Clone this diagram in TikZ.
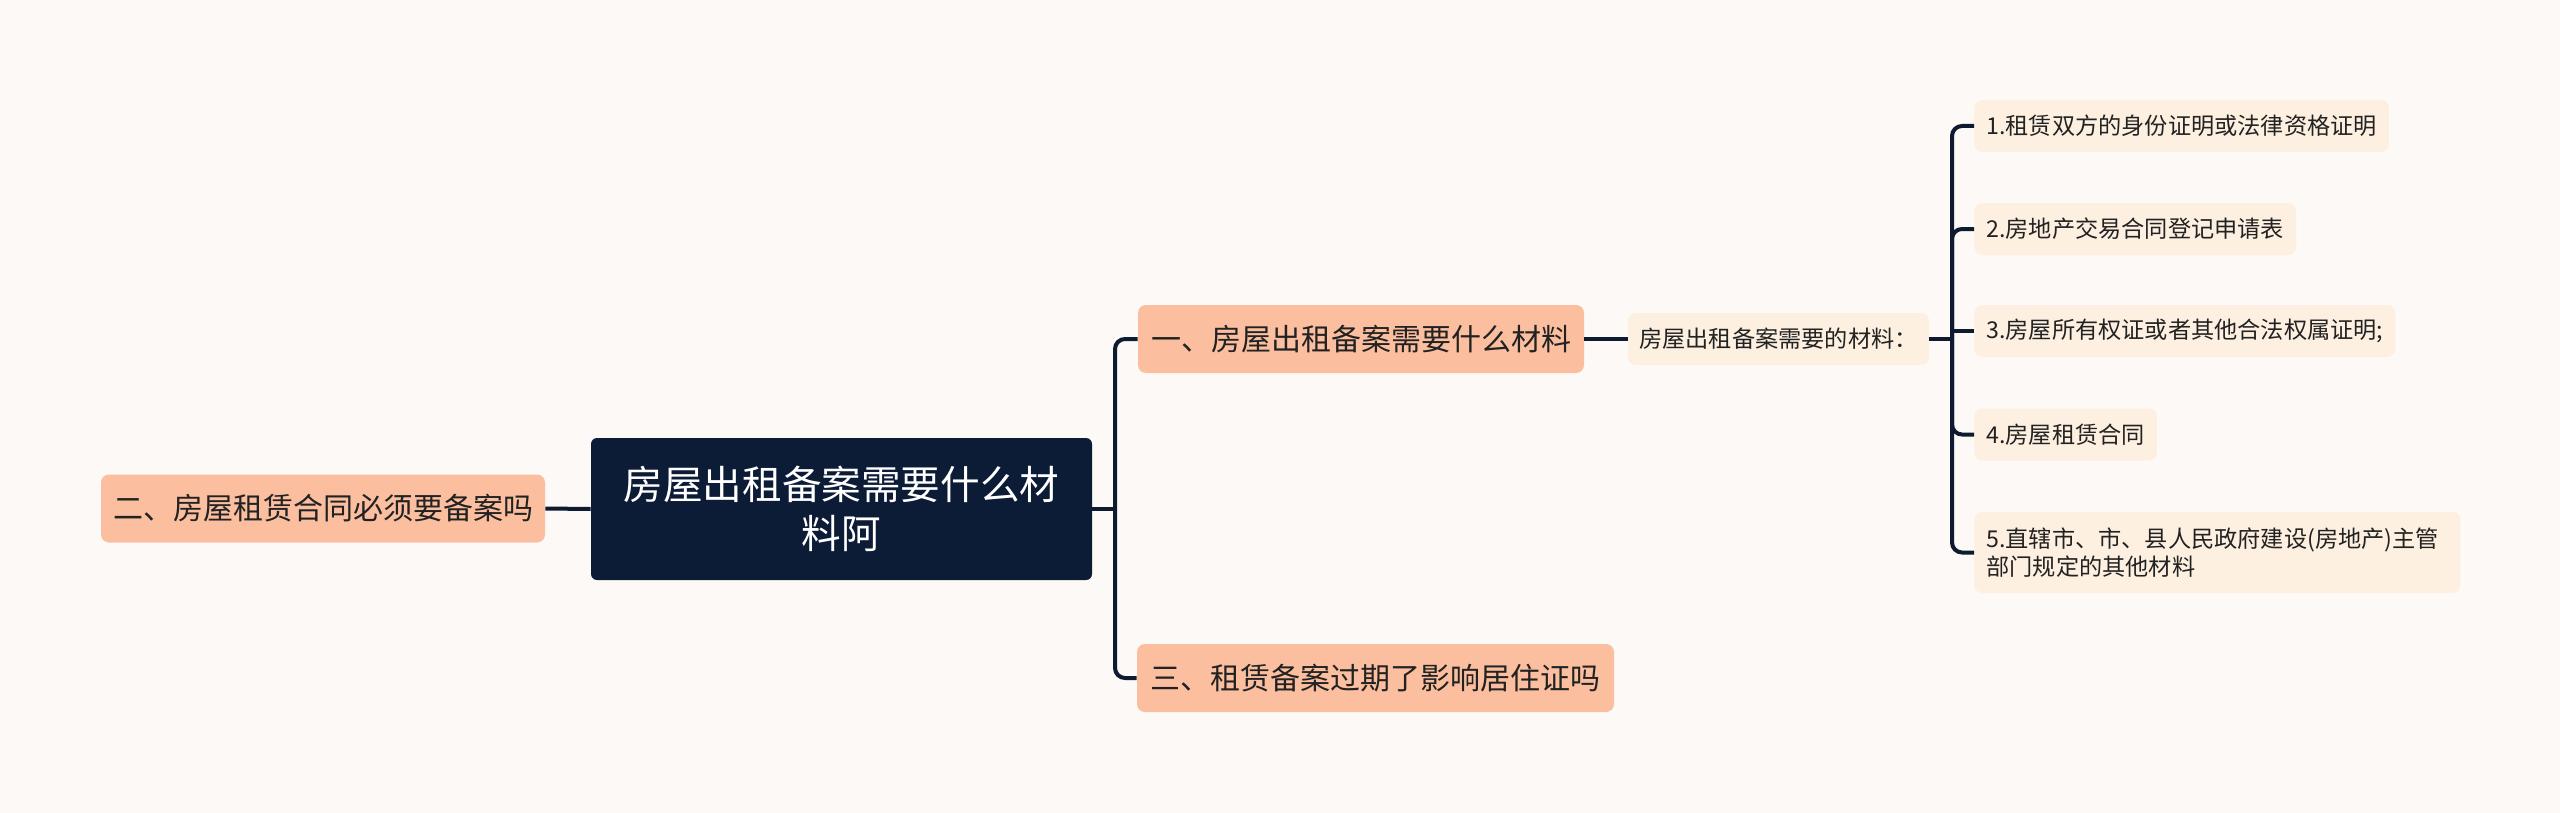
\documentclass[tikz,border=0pt]{standalone}
\usepackage{fontspec}
\newfontfamily\cjk{Noto Sans CJK SC}
\definecolor{bg}{HTML}{FDF9F7}
\definecolor{navy}{HTML}{0C1C36}
\definecolor{linec}{HTML}{0D1A30}
\definecolor{peach}{HTML}{FBBFA0}
\definecolor{cream}{HTML}{FDF0E1}
\definecolor{ink}{HTML}{222222}
\begin{document}
\begin{tikzpicture}[x=0.5pt,y=-0.5pt,
  root/.style={rectangle, rounded corners=3pt, fill=navy, text=white, align=center,
    minimum width=250.5pt, minimum height=71pt, inner sep=0pt,
    font=\cjk\fontsize{19.8}{24.5}\selectfont},
  mainbox/.style={rectangle, rounded corners=4pt, fill=peach, text=ink,
    minimum height=34pt, inner sep=0pt, font=\cjk\fontsize{15}{18}\selectfont},
  subbox/.style={rectangle, rounded corners=4pt, fill=cream, text=ink,
    minimum width=150.5pt, minimum height=26pt, inner sep=0pt,
    font=\cjk\fontsize{11.6}{14}\selectfont},
  leafbox/.style={rectangle, rounded corners=4pt, fill=cream, text=ink, anchor=west,
    minimum height=26pt, inner xsep=6pt, inner ysep=0pt, align=left,
    font=\cjk\fontsize{11.6}{14}\selectfont},
  conn/.style={draw=linec, line width=2pt, rounded corners=5pt}
]
\fill[bg] (0,0) rectangle (2560,813);
\useasboundingbox (0,0) rectangle (2560,813);

\node[root] (c) at (841.5,509) {房屋出租备案需要什么材\\料阿};
\node[mainbox, minimum width=222pt] (l) at (323,508.5) {二、房屋租赁合同必须要备案吗};
\node[mainbox, minimum width=223pt] (a) at (1361,339) {一、房屋出租备案需要什么材料};
\node[mainbox, minimum width=238.5pt] (b) at (1375.5,678) {三、租赁备案过期了影响居住证吗};
\node[subbox] (m) at (1778.5,339) {房屋出租备案需要的材料：};

\node[leafbox] (p1) at (1974,126) {1.租赁双方的身份证明或法律资格证明};
\node[leafbox] (p2) at (1974,229) {2.房地产交易合同登记申请表};
\node[leafbox] (p3) at (1974,331) {3.房屋所有权证或者其他合法权属证明;};
\node[leafbox] (p4) at (1974,434.5) {4.房屋租赁合同};
\node[leafbox, minimum height=40.5pt, text width=231pt] (p5) at (1974,552.5) {5.直辖市、市、县人民政府建设(房地产)主管\\部门规定的其他材料};

\coordinate (j1) at (1115,509);
\coordinate (j2) at (1952,339);

\draw[conn] (l.east) -- (c.west);
\draw[conn] (c.east) -- (j1);
\draw[conn] (j1) |- (a.west);
\draw[conn] (j1) |- (b.west);
\draw[conn] (a.east) -- (m.west);
\draw[conn] (m.east) -- (j2);
\draw[conn] (j2) |- (p1.west);
\draw[conn] (j2) |- (p2.west);
\draw[conn, rounded corners=0pt] (j2) |- (p3.west);
\draw[conn] (j2) |- (p4.west);
\draw[conn] (j2) |- (p5.west);
\end{tikzpicture}
\end{document}
